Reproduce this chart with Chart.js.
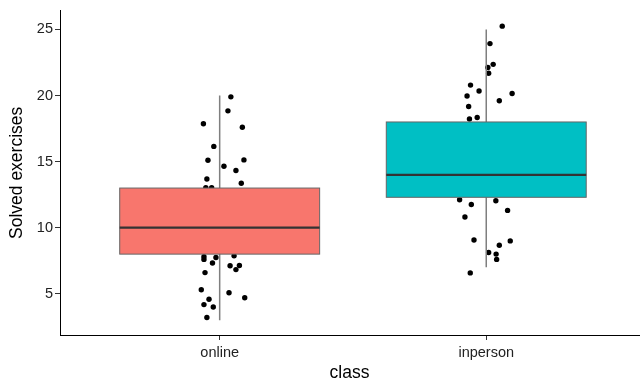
<!DOCTYPE html>
<html>
<head>
<meta charset="utf-8">
<script src="https://cdn.jsdelivr.net/npm/chart.js@4"></script>
<style>
  body { margin: 0; background: #fff; }
  #wrap { width: 643px; height: 381px; }
</style>
</head>
<body>
<div id="wrap"><canvas id="myChart"></canvas></div>
<script>
// groups on the x axis
let classes = ["online", "inperson"];

// box stats per group: lower whisker, q1, median, q3, upper whisker
let whiskLow = [3, 7];
let q1 = [8, 12.3];
let median = [10, 14];
let q3 = [13, 18];
let whiskHigh = [20, 25];
let boxColors = ["#F8766D", "#00BFC4"];

// jittered observations (x = group position + jitter, y = solved)
let onlineX = [1.042, 1.031, 0.939, 1.085, 0.978, 0.956, 1.091, 1.016, 1.061, 0.952, 1.081, 0.948, 0.970,
               0.941, 0.941, 0.986, 0.973, 1.054, 1.039, 1.074, 1.061, 0.945, 0.931, 1.035, 1.094, 0.960, 0.941, 0.976, 0.952];
let onlineY = [19.9, 18.84, 17.87, 17.6, 16.15, 15.1, 15.13, 14.65, 14.33, 13.68, 13.36, 13.03, 13.03,
               7.8, 7.6, 7.75, 7.33, 7.87, 7.12, 7.14, 6.83, 6.6, 5.3, 5.08, 4.7, 4.58, 4.18, 4.0, 3.2];
let inpersonX = [2.060, 2.014, 2.026, 2.006, 2.009, 1.941, 1.973, 1.928, 2.097, 1.934, 2.049, 1.937, 1.966,
                 1.900, 2.036, 1.944, 2.080, 1.920, 1.954, 2.090, 2.049, 2.009, 2.037, 2.039, 1.940];
let inpersonY = [25.25, 23.93, 22.36, 22.13, 21.69, 20.79, 20.34, 19.97, 20.16, 19.17, 19.61, 18.22, 18.34,
                 12.11, 12.04, 11.76, 11.31, 10.81, 9.07, 9.0, 8.67, 8.12, 8.0, 7.6, 6.58];

let boxWidth = 0.75;

function toPoints(xs, ys) {
  return xs.map(function (x, i) { return { x: x, y: ys[i] }; });
}

// boxes and whiskers drawn on top of the points
const boxPlugin = {
  id: "boxes",
  afterDatasetsDraw(chart) {
    const ctx = chart.ctx;
    const xs = chart.scales.x, ys = chart.scales.y;
    ctx.save();
    for (let i = 0; i < classes.length; i++) {
      const cx = xs.getPixelForValue(i + 1);
      const left = xs.getPixelForValue(i + 1 - boxWidth / 2);
      const right = xs.getPixelForValue(i + 1 + boxWidth / 2);
      // whiskers
      ctx.strokeStyle = "#7f7f7f";
      ctx.lineWidth = 1.5;
      ctx.beginPath();
      ctx.moveTo(cx, ys.getPixelForValue(whiskHigh[i]));
      ctx.lineTo(cx, ys.getPixelForValue(q3[i]));
      ctx.moveTo(cx, ys.getPixelForValue(q1[i]));
      ctx.lineTo(cx, ys.getPixelForValue(whiskLow[i]));
      ctx.stroke();
      // box
      const top = ys.getPixelForValue(q3[i]);
      const bot = ys.getPixelForValue(q1[i]);
      ctx.fillStyle = boxColors[i];
      ctx.fillRect(left, top, right - left, bot - top);
      ctx.strokeStyle = "#666666";
      ctx.lineWidth = 1;
      ctx.strokeRect(left, top, right - left, bot - top);
      // median
      const my = ys.getPixelForValue(median[i]);
      ctx.strokeStyle = "#333333";
      ctx.lineWidth = 2.2;
      ctx.beginPath();
      ctx.moveTo(left, my);
      ctx.lineTo(right, my);
      ctx.stroke();
    }
    ctx.restore();
  }
};

new Chart("myChart", {
  type: "scatter",
  data: {
    datasets: [
      { data: toPoints(onlineX, onlineY), backgroundColor: "#000", borderWidth: 0, pointRadius: 2.7 },
      { data: toPoints(inpersonX, inpersonY), backgroundColor: "#000", borderWidth: 0, pointRadius: 2.7 }
    ]
  },
  options: {
    responsive: true,
    maintainAspectRatio: false,
    animation: false,
    layout: { padding: { top: 7, right: 0, left: 7, bottom: 0 } },
    plugins: { legend: { display: false }, tooltip: { enabled: false } },
    scales: {
      x: {
        type: "linear",
        min: 0.401,
        max: 2.573,
        afterBuildTicks: function (axis) { axis.ticks = [{ value: 1 }, { value: 2 }]; },
        afterFit: function (axis) { axis.height = 46; },
        grid: { drawOnChartArea: false, drawTicks: true, tickLength: 5, color: "#333" },
        border: { display: true, color: "#000", width: 1 },
        ticks: {
          color: "#222",
          font: { family: "Liberation Sans", size: 14.5 },
          padding: 4,
          maxRotation: 0,
          callback: function (v) { return classes[v - 1]; }
        },
        title: { display: true, text: "class", color: "#000", font: { family: "Liberation Sans", size: 17.5 }, padding: { top: 0, bottom: -3 } }
      },
      y: {
        min: 1.88,
        max: 26.42,
        afterBuildTicks: function (axis) { axis.ticks = [5, 10, 15, 20, 25].map(function (v) { return { value: v }; }); },
        afterFit: function (axis) { axis.width = 53; },
        grid: { drawOnChartArea: false, drawTicks: true, tickLength: 5, color: "#333" },
        border: { display: true, color: "#000", width: 1 },
        ticks: { color: "#222", font: { family: "Liberation Sans", size: 14.5 }, padding: 2 },
        title: { display: true, text: "Solved exercises", color: "#000", font: { family: "Liberation Sans", size: 17.5 }, padding: 0 }
      }
    }
  },
  plugins: [boxPlugin]
});
</script>
</body>
</html>
